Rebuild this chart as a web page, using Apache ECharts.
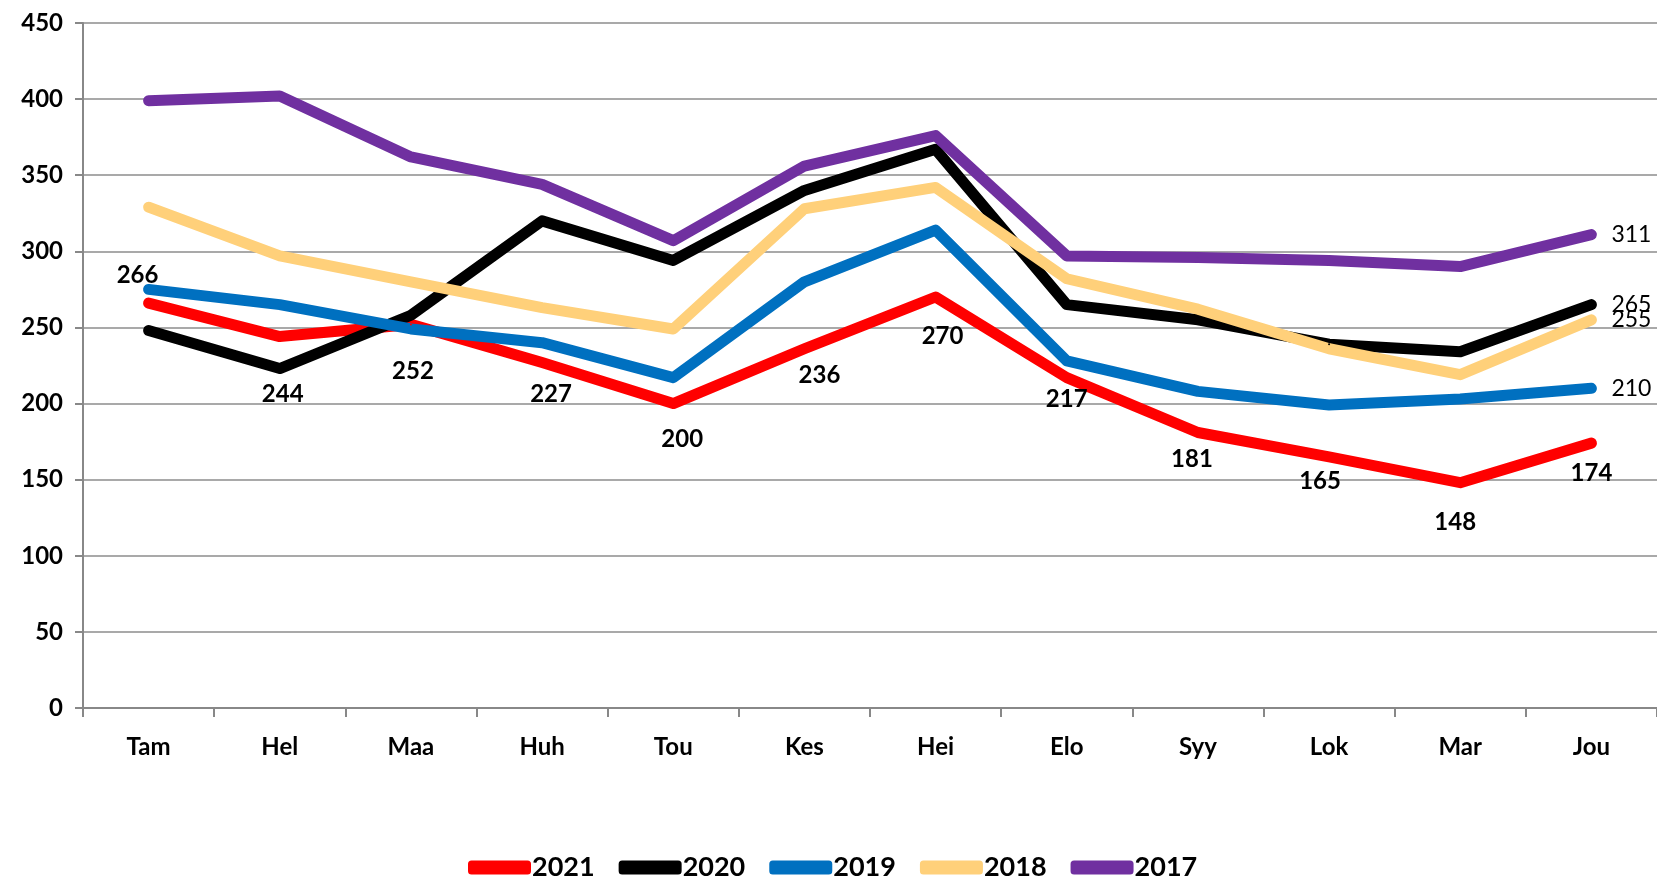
<!DOCTYPE html>
<html>
<head>
<meta charset="utf-8">
<script src="https://cdn.jsdelivr.net/npm/echarts@6/dist/echarts.min.js"></script>
<style>
  html, body { margin: 0; padding: 0; background: #fff; }
  .main { width: 1657px; height: 878px; }
</style>
</head>
<body>
<div class="main"></div>
<script>
var months = ['Tam', 'Hel', 'Maa', 'Huh', 'Tou', 'Kes', 'Hei', 'Elo', 'Syy', 'Lok', 'Mar', 'Jou'];
var y2021 = [266, 244, 252, 227, 200, 236, 270, 217, 181, 165, 148, 174];
var y2020 = [248, 223, 258, 320, 294, 340, 367, 265, 255, 239, 234, 265];
var y2019 = [275, 265, 249, 240, 217, 280, 314, 228, 208, 199, 203, 210];
var y2018 = [329, 297, 280, 263, 249, 328, 342, 282, 262, 236, 219, 255];
var y2017 = [399, 402, 362, 344, 307, 356, 376, 297, 296, 294, 290, 311];

// where the 2021 value labels sit relative to their point (px), as placed in the original
var labelShift = [[-11, -28], [3, 58], [2, 47], [9, 32], [9, 36], [15, 27], [7, 39], [0, 22], [-6, 27], [-9, 24], [-5, 40], [0, 30]];

var font = 'Lato';

// other years only get a label on the last month
function lastLabel(values) {
    return values.map(function(v, i) {
        if (i === values.length - 1) {
            return { value: v, label: { show: true } };
        }
        return v;
    });
}

function lineSeries(name, color, data, label) {
    // tiny symbol hidden under the thick line, needed so labels get drawn
    return {
        name: name,
        type: 'line',
        data: data,
        symbol: 'circle',
        symbolSize: 2,
        showSymbol: true,
        lineStyle: { color: color, width: 11, cap: 'round', join: 'round' },
        itemStyle: { color: color },
        label: label,
        emphasis: { disabled: true }
    };
}

var rightLabel = {
    show: false,
    position: 'right',
    distance: 19,
    color: '#000',
    fontFamily: font,
    fontSize: 23
};

// 2021 labels go in a see-through copy on its own layer so they stay above every line
var redLabels = {
    name: 'labels2021',
    type: 'line',
    zlevel: 1,
    data: y2021.map(function(v, i) {
        return { value: v, label: { offset: labelShift[i] } };
    }),
    symbol: 'circle',
    symbolSize: 2,
    lineStyle: { color: 'rgba(0,0,0,0)', width: 0 },
    itemStyle: { color: 'rgba(0,0,0,0)' },
    label: {
        show: true,
        position: 'inside',
        color: '#000',
        textBorderWidth: 0,
        fontFamily: font,
        fontWeight: 700,
        fontSize: 24
    },
    silent: true,
    emphasis: { disabled: true }
};

var myChart = echarts.init(document.querySelector('.main'));

var option = {
    animation: false,
    grid: { left: 83, top: 23, width: 1576, height: 685 },
    legend: {
        bottom: -8,
        left: 463,
        icon: 'roundRect',
        itemWidth: 63,
        itemHeight: 14,
        itemGap: 24,
        textStyle: { fontFamily: font, fontWeight: 'bold', fontSize: 27, color: '#000', padding: [0, 0, 0, -4] },
        data: ['2021', '2020', '2019', '2018', '2017']
    },
    xAxis: {
        type: 'category',
        data: months,
        boundaryGap: true,
        axisLine: { lineStyle: { color: '#888', width: 2 } },
        axisTick: { show: true, length: 9, lineStyle: { color: '#888', width: 2 } },
        axisLabel: { margin: 27, fontFamily: font, fontWeight: 'bold', fontSize: 24, color: '#000' }
    },
    yAxis: {
        type: 'value',
        min: 0,
        max: 450,
        interval: 50,
        axisLine: { show: true, lineStyle: { color: '#888', width: 2 } },
        axisTick: { show: true, length: 8, lineStyle: { color: '#888', width: 2 } },
        axisLabel: { margin: 20, fontFamily: font, fontWeight: 'bold', fontSize: 24, color: '#000' },
        splitLine: { lineStyle: { color: '#8c8c8c', width: 1.5 } }
    },
    series: [
        lineSeries('2021', '#ff0000', y2021, { show: false }),
        lineSeries('2020', '#000000', lastLabel(y2020), rightLabel),
        lineSeries('2019', '#0070c0', lastLabel(y2019), rightLabel),
        lineSeries('2018', '#ffd07a', lastLabel(y2018), rightLabel),
        lineSeries('2017', '#7030a0', lastLabel(y2017), rightLabel),
        redLabels
    ]
};

myChart.setOption(option);
</script>
</body>
</html>
